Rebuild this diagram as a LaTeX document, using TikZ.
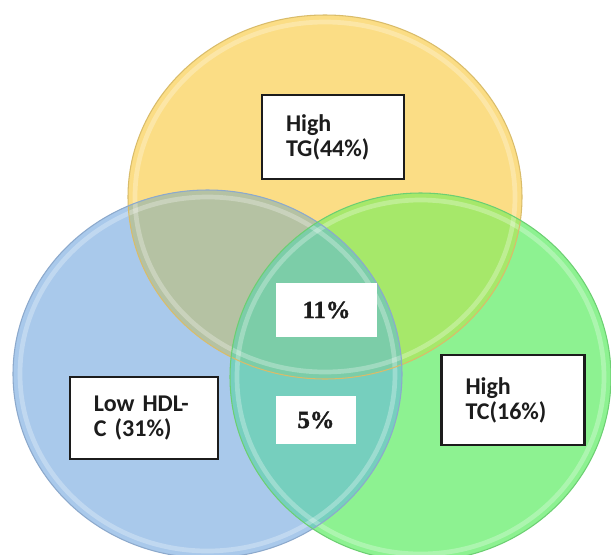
\documentclass[tikz,border=0pt]{standalone}
\usepackage{fontspec}
\setmainfont{Carlito}
\newfontfamily\numfont{Liberation Serif}[BoldFont={Liberation Serif Bold}, BoldFeatures={FakeBold=1.5}]
\definecolor{cy}{HTML}{FBDD85}
\definecolor{cb}{HTML}{A9C9EB}
\definecolor{cg}{HTML}{8DF291}
\definecolor{cyb}{HTML}{B5C2A3}
\definecolor{cyg}{HTML}{A6E86A}
\definecolor{cbg}{HTML}{76CFBE}
\definecolor{cybg}{HTML}{7CCDA8}
\definecolor{ly}{HTML}{D9BC6A}
\definecolor{lb}{HTML}{8CA9CC}
\definecolor{lg}{HTML}{6CCF72}
\definecolor{ink}{HTML}{1C1C1C}
\tikzset{
  labelbox/.style={draw=ink, line width=2pt, fill=white, align=left, inner ysep=0pt,
    inner xsep=0.72cm, font=\fontsize{20.5}{21.3}\selectfont\bfseries, text=ink},
  numbox/.style={fill=white, inner sep=0pt, font=\numfont\fontsize{21}{24}\selectfont\bfseries, text=ink},
  gloss/.style={draw=white, draw opacity=0.28, line width=4pt},
}
\def\Yell{(325,197) ellipse [x radius=197, y radius=182]}
\def\Blue{(207.5,374) ellipse [x radius=194.5, y radius=184]}
\def\Green{(420.5,377) ellipse [x radius=190.5, y radius=184]}
\begin{document}
\begin{tikzpicture}[x=0.03cm,y=-0.03cm]
\useasboundingbox (0,0) rectangle (611,554);
\clip (0,0) rectangle (611,554);
\fill[white] (0,0) rectangle (611,554);
% base fills
\fill[cy] \Yell;
\fill[cb] \Blue;
\fill[cg] \Green;
% pairwise overlaps
\begin{scope}\clip \Yell; \fill[cyb] \Blue; \end{scope}
\begin{scope}\clip \Yell; \fill[cyg] \Green; \end{scope}
\begin{scope}\clip \Blue; \fill[cbg] \Green; \end{scope}
% triple overlap
\begin{scope}\clip \Yell; \clip \Blue; \fill[cybg] \Green; \end{scope}
% gloss rings
\draw[gloss] (325,197) ellipse [x radius=190, y radius=175];
\draw[gloss] (207.5,374) ellipse [x radius=187.5, y radius=177];
\draw[gloss] (420.5,377) ellipse [x radius=183.5, y radius=177];
% outlines
\draw[ly, line width=0.9pt] \Yell;
\draw[lb, line width=0.9pt] \Blue;
\draw[lg, line width=0.9pt] \Green;
% label boxes
\node[labelbox, text width=2.82cm, minimum height=2.52cm] (tg) at (333,137) {High\\TG(44\%)};
\node[labelbox, text width=3.00cm, minimum height=2.46cm] (hdl) at (144,418) {Low HDL-\\C (31\%)};
\node[labelbox, text width=2.85cm, minimum height=2.70cm] (tc) at (513,400) {High\\TC(16\%)};
\node[numbox, minimum width=3.03cm, minimum height=1.62cm] (all) at (326.5,310) {11\%};
\node[numbox, minimum width=2.40cm, minimum height=1.44cm] (bc) at (316,420) {5\%};
\end{tikzpicture}
\end{document}
